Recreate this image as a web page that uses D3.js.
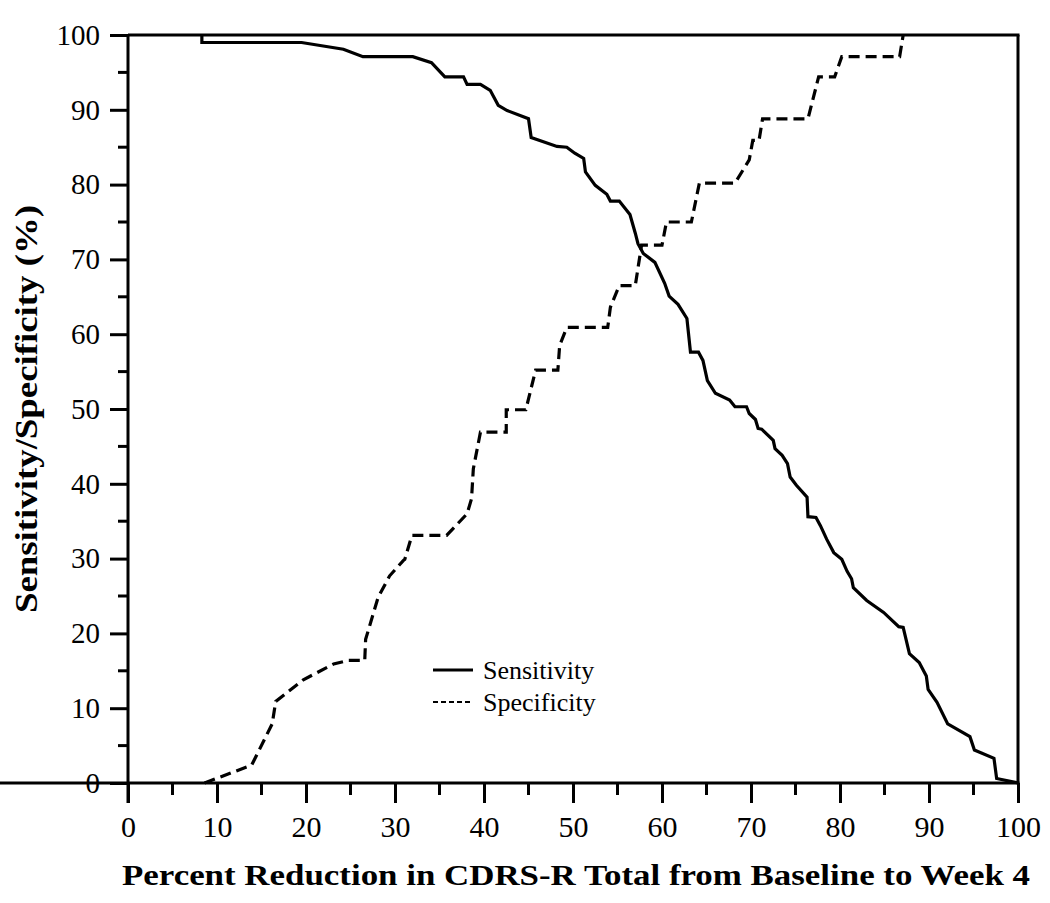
<!DOCTYPE html>
<html>
<head>
<meta charset="utf-8">
<script src="https://cdn.jsdelivr.net/npm/d3@7"></script>
<style>
  html, body { margin: 0; padding: 0; background: #fff; }
  svg { display: block; }
  text { font-family: "Liberation Serif", "Times New Roman", serif; fill: #000; }
</style>
</head>
<body>
<svg id="chart" width="1050" height="903"></svg>
<script>
// ---- Data ----
const xTicks = [0, 10, 20, 30, 40, 50, 60, 70, 80, 90, 100];
const yTicks = [0, 10, 20, 30, 40, 50, 60, 70, 80, 90, 100];

const sensitivityX = [8.3, 8.3, 19.5, 24.2, 26.4, 32.0, 34.1, 35.6, 37.7, 38.1, 39.6, 40.7, 41.6, 42.6, 45.0, 45.3, 48.2, 49.3, 50.2, 51.2, 51.4, 52.5, 53.8, 54.2, 55.2, 56.4, 57.0, 57.3, 57.9, 59.2, 60.3, 60.8, 61.8, 62.8, 63.2, 64.1, 64.6, 65.1, 66.0, 67.6, 68.2, 69.5, 69.8, 70.5, 70.8, 71.2, 72.5, 72.7, 73.5, 74.1, 74.4, 75.1, 76.3, 76.4, 77.3, 77.8, 78.5, 79.3, 80.2, 80.8, 81.3, 81.5, 83.0, 84.9, 86.6, 87.1, 87.8, 88.9, 89.7, 89.9, 90.9, 92.1, 94.6, 95.1, 97.3, 97.6, 100];
const sensitivityY = [100, 99.0, 99.0, 98.1, 97.1, 97.1, 96.3, 94.4, 94.4, 93.4, 93.4, 92.6, 90.6, 89.9, 88.8, 86.3, 85.1, 85.0, 84.2, 83.5, 81.7, 79.9, 78.7, 77.8, 77.8, 76.0, 73.5, 72.1, 70.8, 69.6, 66.8, 65.1, 64.0, 62.1, 57.6, 57.6, 56.5, 53.8, 52.1, 51.2, 50.3, 50.3, 49.4, 48.6, 47.4, 47.3, 45.8, 44.7, 43.8, 42.7, 40.9, 39.8, 38.2, 35.6, 35.5, 34.4, 32.6, 30.8, 29.9, 28.3, 27.3, 26.1, 24.4, 22.8, 20.9, 20.8, 17.3, 16.1, 14.3, 12.5, 10.8, 7.9, 6.2, 4.4, 3.3, 0.6, 0];

const specificityX = [8.6, 13.9, 16.2, 16.6, 19.7, 23.1, 24.8, 26.6, 26.7, 28.1, 29.4, 30.9, 31.1, 31.9, 35.8, 38.1, 38.6, 38.8, 39.6, 42.5, 42.5, 44.7, 45.8, 48.3, 48.5, 49.3, 53.9, 54.2, 55.2, 57.0, 57.7, 60.0, 60.5, 63.3, 64.2, 68.2, 69.8, 70.2, 70.9, 71.3, 76.4, 77.6, 79.4, 80.2, 86.7, 87.1];
const specificityY = [0, 2.4, 7.9, 10.9, 13.8, 15.9, 16.4, 16.4, 19.2, 24.8, 27.7, 29.7, 29.9, 33.1, 33.1, 36.0, 38.0, 42.0, 46.9, 46.9, 49.9, 49.9, 55.2, 55.2, 58.5, 60.9, 60.9, 63.6, 66.5, 66.5, 71.9, 71.9, 75.0, 75.0, 80.2, 80.2, 83.3, 85.9, 85.9, 88.8, 88.8, 94.4, 94.4, 97.1, 97.1, 100];

const seriesNames = ["Sensitivity", "Specificity"];
const xTitle = "Percent Reduction in CDRS-R Total from Baseline to Week 4";
const yTitle = "Sensitivity/Specificity (%)";

// ---- Layout ----
const svg = d3.select("#chart");
const mLeft = 128, mRight = 1018, mTop = 35, mBottom = 783;

const x = d3.scaleLinear().domain([0, 100]).range([mLeft, mRight]);
const y = d3.scaleLinear().domain([0, 100]).range([mBottom, mTop]);

const sens = sensitivityX.map((v, i) => [v, sensitivityY[i]]);
const spec = specificityX.map((v, i) => [v, specificityY[i]]);

const line = d3.line().x(d => x(d[0])).y(d => y(d[1]));

// frame (top & right)
svg.append("line").attr("x1", mLeft).attr("x2", mRight + 1.5).attr("y1", mTop).attr("y2", mTop)
  .attr("stroke", "#000").attr("stroke-width", 3);
svg.append("line").attr("x1", mRight).attr("x2", mRight).attr("y1", mTop).attr("y2", mBottom)
  .attr("stroke", "#000").attr("stroke-width", 3);

// minor ticks
const minor = d3.range(5, 100, 10);
svg.append("g").selectAll("line").data(minor).join("line")
  .attr("x1", d => x(d)).attr("x2", d => x(d)).attr("y1", mBottom).attr("y2", mBottom + 12)
  .attr("stroke", "#000").attr("stroke-width", 3);
svg.append("g").selectAll("line").data(minor).join("line")
  .attr("y1", d => y(d)).attr("y2", d => y(d)).attr("x1", mLeft).attr("x2", mLeft - 10)
  .attr("stroke", "#000").attr("stroke-width", 3);

// axes
const xAxis = d3.axisBottom(x).tickValues(xTicks).tickSize(20).tickPadding(13).tickSizeOuter(0);
const gx = svg.append("g").attr("transform", `translate(0,${mBottom})`).call(xAxis);
const yAxis = d3.axisLeft(y).tickValues(yTicks).tickSize(18).tickPadding(10).tickSizeOuter(0);
const gy = svg.append("g").attr("transform", `translate(${mLeft},0)`).call(yAxis);

[gx, gy].forEach(g => {
  g.select(".domain").attr("stroke", "#000").attr("stroke-width", 3);
  g.selectAll(".tick line").attr("stroke", "#000").attr("stroke-width", 3);
  g.selectAll(".tick text").attr("fill", "#000");
});
gx.selectAll(".tick text").attr("font-size", 30);
gy.selectAll(".tick text").attr("font-size", 29);
gy.select(".domain").attr("d", `M0,${mBottom + 20}V${mTop}`);
gx.select(".domain").attr("d", `M0,0H${mRight + 1.5}`);

// curves
svg.append("path").datum(sens).attr("d", line)
  .attr("fill", "none").attr("stroke", "#000").attr("stroke-width", 3.2)
  .attr("stroke-linejoin", "miter");
svg.append("path").datum(spec).attr("d", line)
  .attr("fill", "none").attr("stroke", "#000").attr("stroke-width", 3.2)
  .attr("stroke-dasharray", "11,6");

// legend
const lg = svg.append("g");
const legendRows = [
  { name: seriesNames[0], dash: null, yy: 670 },
  { name: seriesNames[1], dash: "5,3", yy: 702 }
];
legendRows.forEach(r => {
  lg.append("line").attr("x1", 433).attr("x2", 473).attr("y1", r.yy).attr("y2", r.yy)
    .attr("stroke", "#000").attr("stroke-width", r.dash ? 2 : 3)
    .attr("stroke-dasharray", r.dash);
  lg.append("text").attr("x", 483).attr("y", r.yy + 9).attr("font-size", 26).text(r.name);
});

// titles
svg.append("text").attr("x", 122).attr("y", 885)
  .attr("font-weight", "bold").attr("font-size", 30)
  .attr("textLength", 908).attr("lengthAdjust", "spacingAndGlyphs")
  .text(xTitle);
svg.append("text").attr("transform", `translate(37,613) rotate(-90)`)
  .attr("font-weight", "bold").attr("font-size", 32)
  .attr("textLength", 408).attr("lengthAdjust", "spacingAndGlyphs")
  .text(yTitle);
</script>
</body>
</html>
